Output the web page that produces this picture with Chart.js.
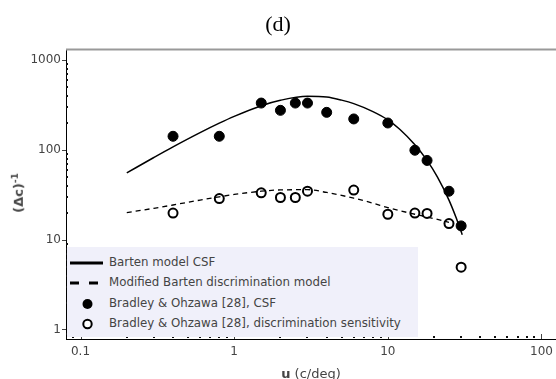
<!DOCTYPE html>
<html><head><meta charset="utf-8">
<script src="https://cdn.jsdelivr.net/npm/chart.js@4"></script>
<style>
html,body{margin:0;padding:0;background:#fff;}
#wrap{position:relative;width:556px;height:379px;overflow:hidden;}
#c{position:absolute;left:0;top:0;}
#legend{position:absolute;left:67px;top:247px;width:351px;height:90px;background:#f0f0fa;font-family:"DejaVu Sans",sans-serif;font-size:11.8px;color:#444;}
.row{position:absolute;left:0;height:20px;width:100%;}
.row .lbl{position:absolute;left:42px;top:2px;white-space:nowrap;}
.row svg{position:absolute;left:0;top:0;}
#ytitle{position:absolute;left:18px;top:193px;transform:translate(-50%,-50%) rotate(-90deg);font-family:"DejaVu Sans",sans-serif;font-size:13px;font-weight:bold;color:#444;white-space:nowrap;}
#xtitle{position:absolute;left:311px;top:373px;transform:translate(-50%,-50%);font-family:"DejaVu Sans",sans-serif;font-size:13px;color:#444;white-space:nowrap;}
</style>
</head><body>
<div id="wrap">
<canvas id="c" width="556" height="379"></canvas>
<div id="legend"></div>
<div id="ytitle">(&Delta;c)<sup style="font-size:9px">-1</sup></div>
<div id="xtitle"><b>u</b> (c/deg)</div>
</div>
<script>
// ---- data ----
const titleText = "(d)";
const seriesLabels = ["Barten model CSF", "Modified Barten discrimination model", "Bradley & Ohzawa [28], CSF", "Bradley & Ohzawa [28], discrimination sensitivity"];
const bartenX = [0.2, 0.3, 0.4, 0.6, 0.8, 1, 1.5, 2, 3, 4, 5, 6, 8, 10, 12, 15, 18, 21, 25, 28, 30.5];
const bartenY = [56, 83, 109, 157, 200, 238, 313, 360, 398, 391, 361, 330, 269, 218, 170, 115, 77, 50.5, 27.9, 17.3, 11.5];
const modX = [0.2, 0.3, 0.4, 0.6, 0.8, 1, 1.5, 2, 3, 4, 6, 8, 10, 15, 18, 25];
const modY = [20.2, 22.6, 24.6, 27.9, 30.3, 32.2, 35.0, 36.2, 36.4, 33.9, 29.3, 25.8, 23.0, 19.4, 18.1, 15.8];
const csfX = [0.4, 0.8, 1.5, 2, 2.5, 3, 4, 6, 10, 15, 18, 25, 30];
const csfY = [143, 143, 335, 278, 335, 335, 264, 223, 201, 100, 77, 35, 14.4];
const discX = [0.4, 0.8, 1.5, 2, 2.5, 3, 6, 10, 15, 18, 25, 30];
const discY = [20, 29, 33.6, 29.8, 29.8, 35, 36, 19.4, 20, 19.8, 15.3, 5.0];
const xTicks = [0.1, 1, 10, 100];
const yTicks = [1, 10, 100, 1000];
const minorMult = [2, 3, 4, 5, 6, 7, 8, 9];

const pts = (xs, ys) => xs.map((x, i) => ({x: x, y: ys[i]}));
const minorOf = (majors) => { const out = []; majors.forEach(m => minorMult.forEach(k => out.push(m * k))); return out; };
const xMinor = minorOf([0.01, 0.1, 1, 10, 100]);
const yMinor = minorOf([0.1, 1, 10, 100, 1000]);

const axisDeco = {
  id: 'axisDeco',
  afterDraw(chart) {
    const {ctx, chartArea: a, scales: {x, y}} = chart;
    ctx.save();
    ctx.strokeStyle = '#999'; ctx.lineWidth = 2;
    ctx.beginPath(); ctx.moveTo(a.left, a.top - 1); ctx.lineTo(chart.width, a.top - 1); ctx.stroke();
    ctx.fillStyle = '#111';
    xMinor.forEach(v => { const px = x.getPixelForValue(v); if (px > a.left + 1 && px < a.right) ctx.fillRect(Math.round(px) - 1, a.bottom - 3, 2, 2); });
    yMinor.forEach(v => { const py = y.getPixelForValue(v); if (py > a.top && py < a.bottom - 1) ctx.fillRect(a.left, Math.round(py) - 1, 2, 2); });
    ctx.strokeStyle = '#444'; ctx.lineWidth = 1;
    xTicks.forEach(v => { const px = Math.round(x.getPixelForValue(v)) + 0.5; ctx.beginPath(); ctx.moveTo(px, a.bottom); ctx.lineTo(px, a.bottom - 5); ctx.stroke(); });
    ctx.restore();
  }
};

const chart = new Chart(document.getElementById('c'), {
  type: 'scatter',
  data: {
    datasets: [
      {label: seriesLabels[0], data: pts(bartenX, bartenY), showLine: true, borderColor: '#000', borderWidth: 1.5, pointRadius: 0, cubicInterpolationMode: 'monotone', fill: false},
      {label: seriesLabels[1], data: pts(modX, modY), showLine: true, borderColor: '#000', borderWidth: 1.3, borderDash: [5, 4], pointRadius: 0, cubicInterpolationMode: 'monotone', fill: false},
      {label: seriesLabels[2], data: pts(csfX, csfY), showLine: false, pointRadius: 5, pointBackgroundColor: '#000', pointBorderColor: '#000', pointBorderWidth: 1},
      {label: seriesLabels[3], data: pts(discX, discY), showLine: false, pointRadius: 4.5, pointBackgroundColor: '#fff', pointBorderColor: '#000', pointBorderWidth: 2}
    ]
  },
  options: {
    responsive: false,
    animation: false,
    events: [],
    layout: {autoPadding: false, padding: {left: 0, right: 0, top: 0, bottom: 0}},
    plugins: {
      legend: {display: false},
      tooltip: {enabled: false},
      title: {display: true, text: titleText, color: '#000', font: {family: 'Liberation Serif', size: 22, weight: 'normal'}, padding: {top: 12, bottom: 12}}
    },
    scales: {
      x: {
        type: 'logarithmic', min: 0.08044, max: 124.3,
        afterBuildTicks: s => { s.ticks = xTicks.map(v => ({value: v, major: true})); },
        afterFit: s => { s.height = 40; s.paddingLeft = 0; s.paddingRight = 0; },
        ticks: {color: '#444', font: {family: 'DejaVu Sans', size: 12}, padding: 6, maxRotation: 0, autoSkip: false, callback: v => String(v)},
        grid: {display: true, drawOnChartArea: false, drawTicks: false},
        border: {display: true, color: '#000', width: 1}
      },
      y: {
        type: 'logarithmic', min: 0.794, max: 1291,
        afterBuildTicks: s => { s.ticks = yTicks.map(v => ({value: v, major: true})); },
        afterFit: s => { s.width = 66; s.paddingTop = 0; s.paddingBottom = 0; },
        ticks: {color: '#444', font: {family: 'DejaVu Sans', size: 12}, padding: 1, autoSkip: false, callback: v => String(v)},
        grid: {display: true, drawOnChartArea: false, drawTicks: true, tickLength: 4, tickColor: '#444'},
        border: {display: true, color: '#000', width: 1}
      }
    }
  },
  plugins: [axisDeco]
});

// HTML legend built from dataset labels
const lg = document.getElementById('legend');
const rowTops = [6, 26, 46.5, 67];
chart.data.datasets.forEach((ds, i) => {
  const r = document.createElement('div'); r.className = 'row'; r.style.top = rowTops[i] + 'px';
  let svg = '';
  if (i === 0) svg = '<line x1="3" y1="10" x2="36" y2="10" stroke="#000" stroke-width="3"/>';
  if (i === 1) svg = '<line x1="3" y1="10" x2="36" y2="10" stroke="#000" stroke-width="3" stroke-dasharray="9,10"/>';
  if (i === 2) svg = '<circle cx="20.5" cy="10" r="5" fill="#000"/>';
  if (i === 3) svg = '<circle cx="20.5" cy="10" r="4.2" fill="#fff" stroke="#000" stroke-width="2"/>';
  r.innerHTML = '<svg width="40" height="20">' + svg + '</svg><span class="lbl"></span>';
  r.querySelector('.lbl').textContent = ds.label;
  lg.appendChild(r);
});
</script>
</body></html>
